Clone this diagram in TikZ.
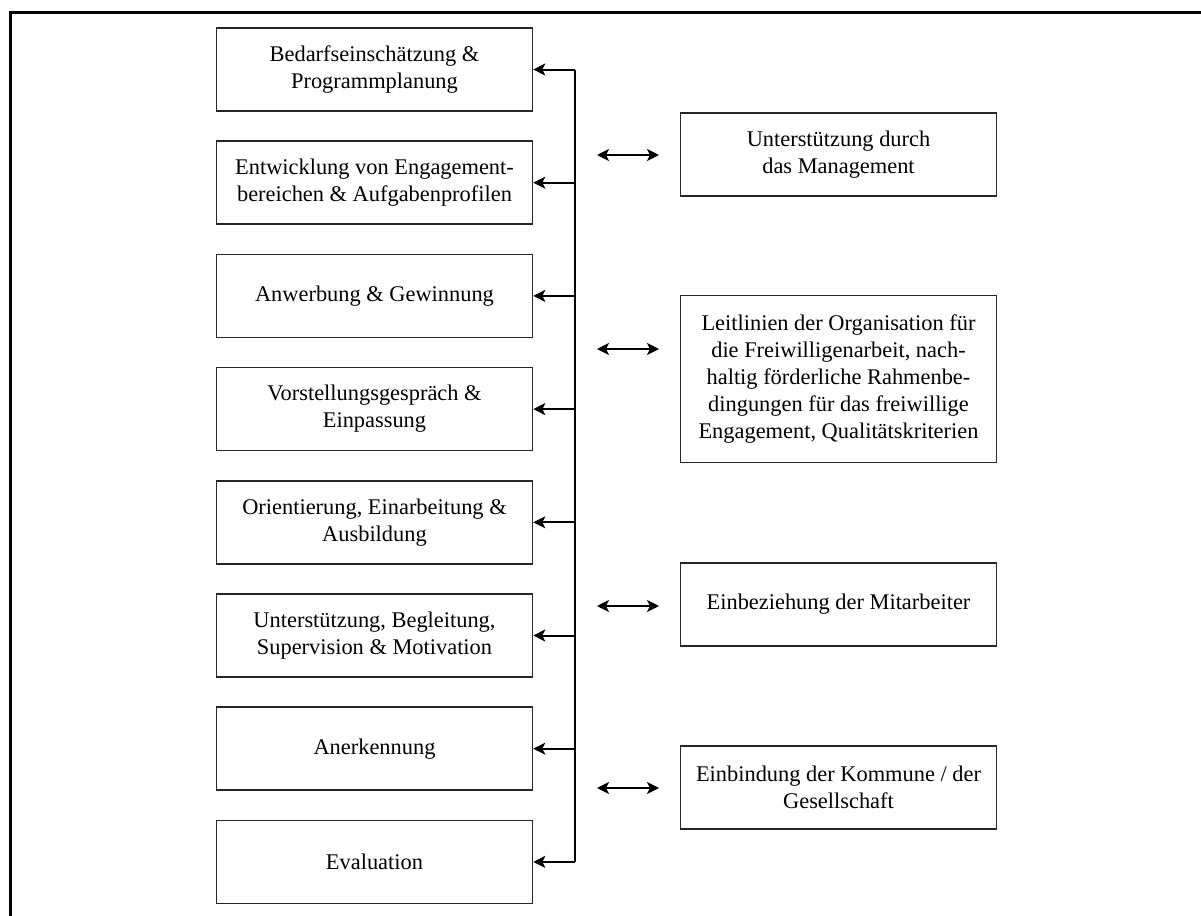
\documentclass[tikz,border=0pt]{standalone}
\usepackage{fontspec}
\setmainfont{Liberation Serif}
\usetikzlibrary{positioning, arrows.meta}

\tikzset{
  stepbox/.style={draw=black!85, line width=0.8pt, minimum width=158pt,
    minimum height=41.5pt, inner sep=0pt, align=center,
    font=\fontsize{11.2}{13.5}\selectfont},
  sidebox/.style={stepbox},
  feed/.style={-{Stealth[length=6pt,width=6pt,inset=1.5pt]}, line width=1pt},
  link/.style={{Stealth[length=6pt,width=6pt,inset=1.5pt]}-{Stealth[length=6pt,width=6pt,inset=1.5pt]}, line width=1pt},
}

\begin{document}
\begin{tikzpicture}[x=0.5pt, y=-0.5pt, node distance=14.3pt]
    \useasboundingbox (0,0) rectangle (1201,916);
    \draw[line width=1.5pt] (1201,12) -- (10,12) -- (10,916);

    % process steps
    \node[stepbox] (s1) at (374.5,69.5) {Bedarfseinschätzung \&\\Programmplanung};
    \node[stepbox, below=of s1] (s2) {Entwicklung von Engagement-\\bereichen \& Aufgabenprofilen};
    \node[stepbox, below=of s2] (s3) {Anwerbung \& Gewinnung};
    \node[stepbox, below=of s3] (s4) {Vorstellungsgespräch \&\\Einpassung};
    \node[stepbox, below=of s4] (s5) {Orientierung, Einarbeitung \&\\Ausbildung};
    \node[stepbox, below=of s5] (s6) {Unterstützung, Begleitung,\\Supervision \& Motivation};
    \node[stepbox, below=of s6] (s7) {Anerkennung};
    \node[stepbox, below=of s7] (s8) {Evaluation};

    % framework
    \node[sidebox] (r1) at (838.5,154.5) {Unterstützung durch\\das Management};
    \node[sidebox, minimum height=83.5pt] (r2) at (838.5,379) {Leitlinien der Organisation für\\die Freiwilligenarbeit, nach-\\haltig förderliche Rahmenbe-\\dingungen für das freiwillige\\Engagement, Qualitätskriterien};
    \node[sidebox] (r3) at (838.5,604.5) {Einbeziehung der Mitarbeiter};
    \node[sidebox] (r4) at (838.5,787.5) {Einbindung der Kommune / der\\Gesellschaft};

    \coordinate (bus) at (575,0);
    \draw[line width=1pt] (bus |- s1.east) -- (bus |- s8.east);
    \foreach \i in {1,...,8}
        \draw[feed] (bus |- s\i.east) -- (s\i.east);

    \coordinate (a1) at (597,155);
    \coordinate (b1) at (659,155);
    \coordinate (a2) at (597,349);
    \coordinate (b2) at (659,349);
    \coordinate (a3) at (597,606);
    \coordinate (b3) at (659,606);
    \coordinate (a4) at (597,788);
    \coordinate (b4) at (659,788);
    \foreach \i in {1,...,4}
        \draw[link] (a\i) -- (b\i);
\end{tikzpicture}
\end{document}
